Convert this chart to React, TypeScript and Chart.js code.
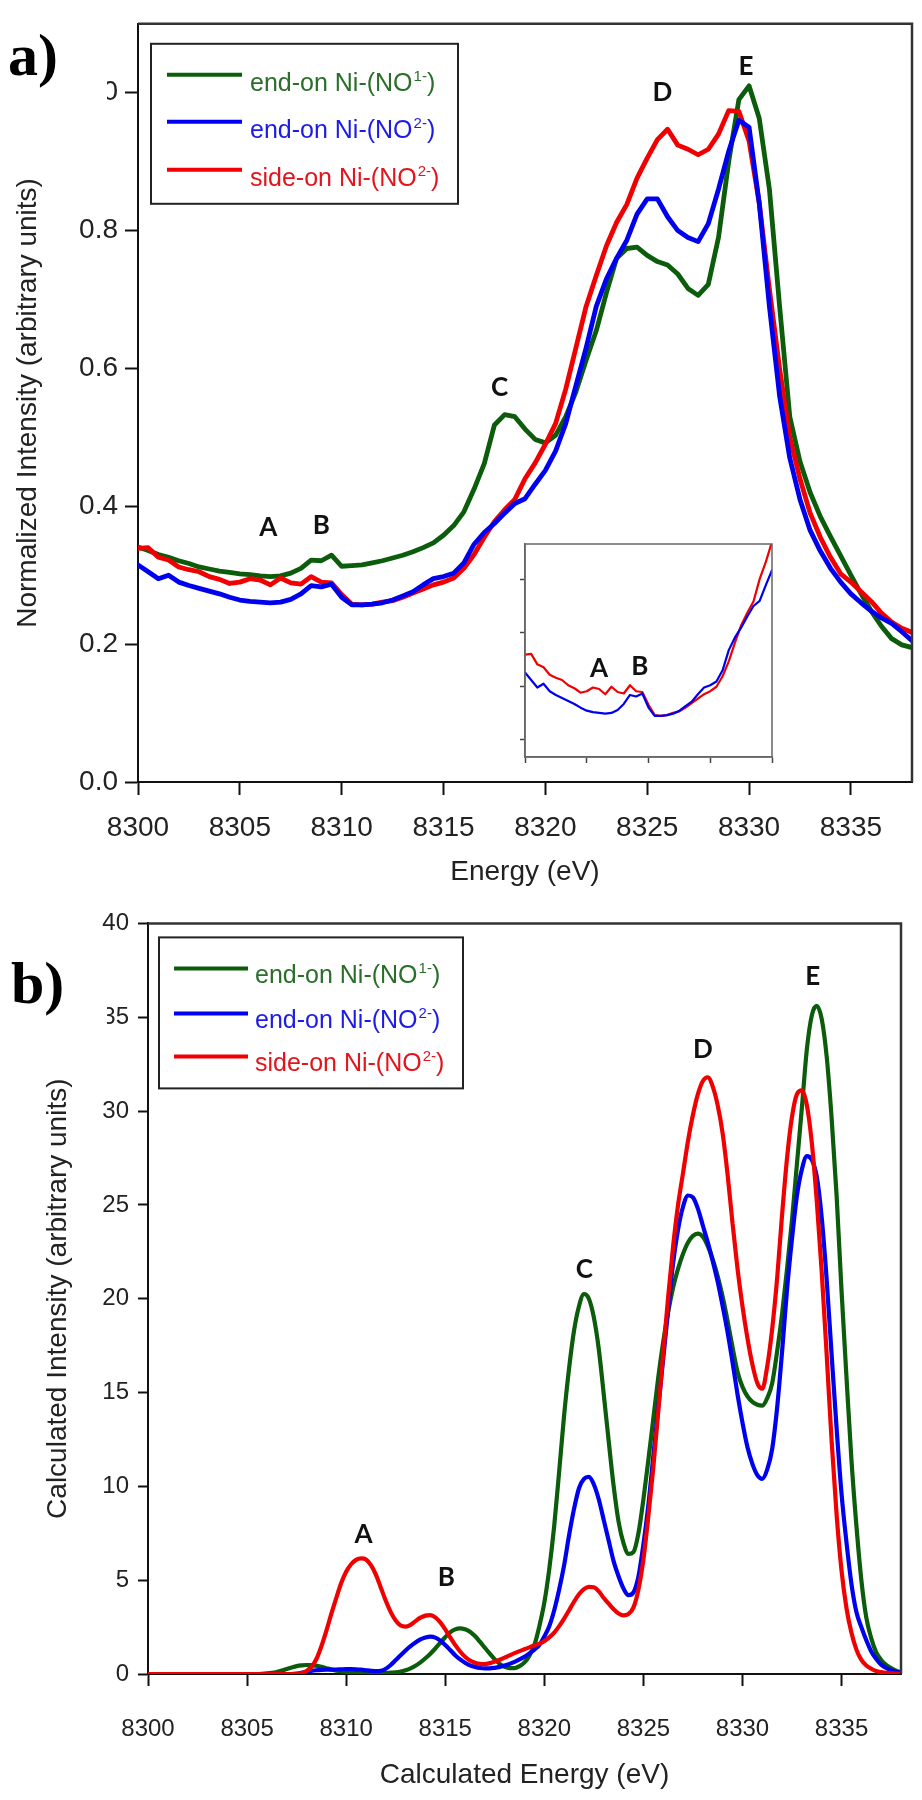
import React, { useEffect, useRef } from 'react';
import { Chart, registerables } from 'chart.js';

Chart.register(...registerables);

const SANS = '"Liberation Sans", Arial, Helvetica, sans-serif';
const LETTER = 'Lato, "Open Sans", "DejaVu Sans", sans-serif';
const SERIF = '"Liberation Serif", "Times New Roman", serif';

const GREEN = '#0b5c0b';
const BLUE = '#0000f0';
const RED = '#f00000';
const GREEN_TEXT = '#2a6e2a';
const BLUE_TEXT = '#1c1ce6';
const RED_TEXT = '#e4141c';

// ---------- legend ----------
const legendNames = ['end-on Ni-(NO', 'end-on Ni-(NO', 'side-on Ni-(NO'];
const legendSups = ['1-', '2-', '2-'];
const legendLineColors = [GREEN, BLUE, RED];
const legendTextColors = [GREEN_TEXT, BLUE_TEXT, RED_TEXT];

// ---------- panel a : experimental spectra (0.5 eV grid) ----------
const energyA = Array.from({ length: 77 }, (_, i) => 8300 + i * 0.5);
const yTicksA = [0, 0.2, 0.4, 0.6, 0.8, 1.0];
const greenA = [
  0.341, 0.336, 0.330, 0.326, 0.321, 0.317, 0.312, 0.309, 0.306, 0.304,
  0.302, 0.301, 0.299, 0.298, 0.299, 0.303, 0.310, 0.322, 0.321, 0.329,
  0.313, 0.314, 0.315, 0.318, 0.321, 0.325, 0.329, 0.334, 0.340, 0.347,
  0.358, 0.372, 0.392, 0.425, 0.462, 0.518, 0.533, 0.530, 0.512, 0.497,
  0.492, 0.503, 0.530, 0.566, 0.612, 0.655, 0.710, 0.760, 0.774, 0.776,
  0.764, 0.755, 0.750, 0.737, 0.716, 0.706, 0.722, 0.790, 0.900, 0.990,
  1.010, 0.963, 0.860, 0.690, 0.530, 0.465, 0.420, 0.385, 0.356, 0.328,
  0.300, 0.273, 0.248, 0.226, 0.208, 0.199, 0.195,
];
const blueA = [
  0.315, 0.305, 0.295, 0.300, 0.290, 0.285, 0.281, 0.277, 0.273, 0.268,
  0.264, 0.262, 0.261, 0.260, 0.261, 0.265, 0.273, 0.285, 0.283, 0.287,
  0.268, 0.257, 0.257, 0.258, 0.260, 0.264, 0.270, 0.276, 0.286, 0.295,
  0.298, 0.303, 0.318, 0.345, 0.362, 0.375, 0.390, 0.404, 0.411, 0.432,
  0.452, 0.480, 0.520, 0.575, 0.630, 0.690, 0.730, 0.760, 0.786, 0.824,
  0.846, 0.846, 0.820, 0.800, 0.790, 0.784, 0.810, 0.860, 0.915, 0.960,
  0.950, 0.840, 0.690, 0.560, 0.470, 0.410, 0.365, 0.335, 0.310, 0.290,
  0.273, 0.260, 0.248, 0.238, 0.230, 0.218, 0.205,
];
const redA = [
  0.339, 0.340, 0.326, 0.322, 0.312, 0.308, 0.305, 0.298, 0.294, 0.288,
  0.290, 0.295, 0.293, 0.286, 0.296, 0.289, 0.287, 0.298, 0.290, 0.289,
  0.272, 0.258, 0.257, 0.258, 0.261, 0.263, 0.268, 0.274, 0.280, 0.286,
  0.290, 0.296, 0.310, 0.330, 0.355, 0.378, 0.395, 0.410, 0.440, 0.463,
  0.490, 0.520, 0.570, 0.630, 0.690, 0.735, 0.778, 0.812, 0.838, 0.876,
  0.905, 0.932, 0.947, 0.924, 0.918, 0.910, 0.918, 0.940, 0.974, 0.973,
  0.930, 0.840, 0.715, 0.600, 0.500, 0.440, 0.390, 0.355, 0.326, 0.302,
  0.290, 0.276, 0.262, 0.245, 0.232, 0.223, 0.217,
];
const peakNamesA = ['A', 'B', 'C', 'D', 'E'];
const peakXA = [8306.4, 8309.0, 8317.75, 8325.75, 8329.85];
const peakYA = [0.370, 0.373, 0.573, 1.001, 1.040];

// inset (pre-edge zoom of panel a, 8300-8320 eV)
const insetYTicks = [0.226, 0.297, 0.368, 0.439];
const insetNames = ['A', 'B'];
const insetX = [8306.0, 8309.3];
const insetY = [0.321, 0.324];

// ---------- panel b : calculated spectra (0.25 eV grid) ----------
const energyB = Array.from({ length: 153 }, (_, i) => 8300 + i * 0.25);
const greenB = [
  0, 0, 0, 0, 0, 0, 0, 0, 0, 0, 0, 0, 0, 0, 0, 0, 0, 0, 0, 0, 0, 0, 0,
  0.01, 0.03, 0.06, 0.11, 0.18, 0.27, 0.35, 0.42, 0.46, 0.48,
  0.47, 0.43, 0.38, 0.31, 0.24, 0.18, 0.14, 0.11, 0.08, 0.06,
  0.04, 0.03, 0.03, 0.03, 0.04, 0.05, 0.07, 0.09, 0.13, 0.20,
  0.30, 0.44, 0.62, 0.84, 1.08, 1.36, 1.66, 1.96, 2.22, 2.38,
  2.43, 2.38, 2.25, 2.02, 1.72, 1.40, 1.08, 0.78, 0.54, 0.38,
  0.31, 0.31, 0.42, 0.62, 0.98, 1.55, 2.55, 3.80, 5.60, 7.90,
  10.80, 13.80, 16.30, 18.30, 19.60, 20.25, 20.00, 19.00, 17.30, 14.90,
  12.40, 10.00, 8.10, 6.96, 6.40, 6.50, 7.50, 9.30, 11.40, 13.60,
  15.80, 17.70, 19.30, 20.60, 21.60, 22.40, 23.00, 23.35, 23.47, 23.30,
  22.80, 22.10, 21.20, 20.10, 18.80, 17.40, 16.10, 15.30, 14.80, 14.50,
  14.35, 14.30, 14.70, 15.50, 17.20, 19.20, 21.60, 24.20, 27.20, 30.20,
  33.30, 35.10, 35.60, 34.90, 32.90, 29.60, 25.50, 20.40, 15.80, 11.40,
  7.90, 5.00, 3.00, 1.90, 1.15, 0.75, 0.48, 0.32, 0.18, 0.10,
];
const blueB = [
  0, 0, 0, 0, 0, 0, 0, 0, 0, 0, 0, 0, 0, 0, 0, 0, 0, 0, 0, 0, 0, 0, 0, 0, 0, 0, 0, 0, 0, 0,
  0.02, 0.06, 0.12, 0.17, 0.20, 0.22, 0.23, 0.23, 0.24, 0.25,
  0.26, 0.26, 0.25, 0.23, 0.20, 0.17, 0.15, 0.17, 0.28, 0.48,
  0.74, 1.00, 1.25, 1.48, 1.68, 1.84, 1.94, 1.99, 1.94, 1.78,
  1.55, 1.28, 1.00, 0.78, 0.60, 0.46, 0.38, 0.32, 0.30, 0.30,
  0.33, 0.38, 0.45, 0.54, 0.65, 0.78, 0.92, 1.10, 1.30, 1.55,
  2.00, 2.55, 3.40, 4.50, 5.80, 7.40, 8.80, 9.90, 10.40, 10.50,
  10.10, 9.30, 8.20, 7.10, 6.00, 5.20, 4.55, 4.20, 4.35, 5.20,
  6.90, 9.00, 11.60, 14.20, 16.80, 19.40, 21.90, 23.70, 24.90, 25.50,
  25.40, 24.80, 23.90, 23.00, 22.00, 20.90, 19.60, 18.20, 16.60, 14.90,
  13.40, 12.10, 11.20, 10.60, 10.40, 10.90, 12.00, 14.20, 17.20, 20.50,
  23.20, 25.50, 26.90, 27.60, 27.40, 26.50, 24.30, 21.00, 17.00, 13.10,
  9.60, 7.00, 4.80, 3.30, 2.50, 1.80, 1.20, 0.80, 0.50, 0.32,
  0.20, 0.12, 0.07,
];
const redB = [
  0, 0, 0, 0, 0, 0, 0, 0, 0, 0, 0, 0, 0, 0, 0, 0, 0, 0, 0, 0, 0, 0, 0, 0, 0, 0, 0, 0, 0, 0, 0,
  0.05, 0.16, 0.38, 0.80, 1.48, 2.30, 3.20, 4.05, 4.85,
  5.45, 5.85, 6.08, 6.16, 6.10, 5.80, 5.30, 4.60, 3.90, 3.30,
  2.85, 2.58, 2.52, 2.62, 2.82, 3.00, 3.11, 3.14, 3.02, 2.75,
  2.38, 1.95, 1.55, 1.20, 0.92, 0.72, 0.60, 0.54, 0.53, 0.58,
  0.66, 0.76, 0.87, 0.99, 1.11, 1.22, 1.32, 1.42, 1.53, 1.62,
  1.75, 1.95, 2.20, 2.55, 2.95, 3.40, 3.85, 4.25, 4.52, 4.64,
  4.62, 4.40, 4.05, 3.75, 3.45, 3.22, 3.12, 3.20, 3.55, 4.50,
  6.10, 8.40, 11.00, 14.00, 17.10, 20.10, 22.80, 25.00, 26.70, 28.40,
  29.80, 30.90, 31.60, 31.80, 31.30, 30.30, 28.80, 26.60, 24.00, 21.60,
  19.60, 17.90, 16.50, 15.50, 15.20, 16.40, 18.40, 21.10, 24.50, 27.50,
  29.70, 30.90, 31.10, 30.30, 28.30, 25.20, 21.40, 17.00, 12.40, 8.50,
  5.50, 3.50, 2.20, 1.30, 0.75, 0.45, 0.28, 0.16, 0.10, 0.06,
  0.04, 0.02, 0.01,
];
const peakNamesB = ['A', 'B', 'C', 'D', 'E'];
const peakXB = [8310.88, 8315.06, 8322.02, 8328.0, 8333.55];
const peakYB = [7.5, 5.17, 21.6, 33.3, 37.2];

// ---------- helpers ----------
const pts = (xs: number[], ys: number[]) => ys.map((y, i) => ({ x: xs[i], y }));

function legendPlugin(o: any) {
  return {
    id: 'customLegend',
    afterDatasetsDraw(chart: any) {
      const { ctx, chartArea } = chart;
      const x0 = chartArea.left + o.dx;
      const y0 = chartArea.top + o.dy;
      ctx.save();
      ctx.fillStyle = '#ffffff';
      ctx.fillRect(x0, y0, o.w, o.h);
      ctx.strokeStyle = '#222';
      ctx.lineWidth = 2;
      ctx.strokeRect(x0, y0, o.w, o.h);
      legendNames.forEach((name, i) => {
        const y = y0 + o.rowY[i];
        ctx.strokeStyle = legendLineColors[i];
        ctx.lineWidth = 4;
        ctx.beginPath();
        ctx.moveTo(x0 + o.lineX0, y);
        ctx.lineTo(x0 + o.lineX1, y);
        ctx.stroke();
        ctx.fillStyle = legendTextColors[i];
        ctx.textAlign = 'left';
        ctx.textBaseline = 'alphabetic';
        const by = y + o.baseOff;
        let tx = x0 + o.textX;
        ctx.font = `${o.font}px ${SANS}`;
        ctx.fillText(name, tx, by);
        tx += ctx.measureText(name).width + 1;
        ctx.font = `${Math.round(o.font * 0.6)}px ${SANS}`;
        ctx.fillText(legendSups[i], tx, by - o.font * 0.4);
        tx += ctx.measureText(legendSups[i]).width;
        ctx.font = `${o.font}px ${SANS}`;
        ctx.fillText(')', tx, by);
      });
      ctx.restore();
    },
  };
}

function lettersPlugin(names: string[], xs: number[], ys: number[], size: number) {
  return {
    id: 'peakLetters',
    afterDatasetsDraw(chart: any) {
      const { ctx, scales } = chart;
      ctx.save();
      ctx.font = `bold ${size}px ${LETTER}`;
      ctx.fillStyle = '#111';
      ctx.textAlign = 'center';
      ctx.textBaseline = 'alphabetic';
      names.forEach((n, i) => {
        const px = scales.x.getPixelForValue(xs[i]);
        const py = scales.y.getPixelForValue(ys[i]);
        ctx.fillText(n, px, py + size * 0.36);
      });
      ctx.restore();
    },
  };
}

function framePlugin(color: string, width: number, full: boolean, fill: boolean) {
  return {
    id: 'frame',
    beforeDraw(chart: any) {
      if (!fill) return;
      const { ctx, chartArea: a } = chart;
      ctx.save();
      ctx.fillStyle = '#fff';
      ctx.fillRect(a.left, a.top, a.right - a.left, a.bottom - a.top);
      ctx.restore();
    },
    afterDraw(chart: any) {
      const { ctx, chartArea: a } = chart;
      ctx.save();
      ctx.strokeStyle = color;
      ctx.lineWidth = width;
      ctx.beginPath();
      if (full) {
        ctx.rect(a.left, a.top, a.right - a.left, a.bottom - a.top);
      } else {
        ctx.moveTo(a.left, a.top);
        ctx.lineTo(a.right, a.top);
        ctx.lineTo(a.right, a.bottom);
      }
      ctx.stroke();
      ctx.restore();
    },
  };
}

const lineDs = (label: string, data: any[], color: string, width: number, smooth: boolean) => ({
  label,
  data,
  borderColor: color,
  backgroundColor: color,
  borderWidth: width,
  pointRadius: 0,
  fill: false,
  tension: 0,
  cubicInterpolationMode: smooth ? 'monotone' : 'default',
  borderJoinStyle: 'round',
  borderCapStyle: 'round',
});

const fmtInt = (v: any) => String(v);

function configA() {
  return {
    type: 'line',
    data: {
      datasets: [
        lineDs('end-on Ni-(NO2-)', pts(energyA, blueA), BLUE, 4.8, false),
        lineDs('side-on Ni-(NO2-)', pts(energyA, redA), RED, 4.8, false),
        lineDs('end-on Ni-(NO1-)', pts(energyA, greenA), GREEN, 4.8, false),
      ],
    },
    options: {
      animation: false,
      responsive: false,
      devicePixelRatio: 1,
      parsing: false,
      layout: { padding: { left: 0, top: 11, right: 10, bottom: 0 } },
      plugins: { legend: { display: false }, tooltip: { enabled: false } },
      scales: {
        x: {
          type: 'linear',
          min: 8300,
          max: 8338,
          ticks: { stepSize: 5, includeBounds: false, callback: fmtInt, font: { family: SANS, size: 28 }, color: '#222', padding: 16, maxRotation: 0, autoSkip: false },
          grid: { drawOnChartArea: false, drawTicks: true, tickLength: 13, tickWidth: 2, tickColor: '#111' },
          border: { display: true, color: '#111', width: 2 },
          title: { display: true, text: 'Energy (eV)', font: { family: SANS, size: 28 }, color: '#222', padding: { top: 0, bottom: 11 } },
          afterFit: (s: any) => { s.height = 118; },
        },
        y: {
          type: 'linear',
          min: 0,
          max: 1.1,
          afterBuildTicks: (s: any) => { s.ticks = yTicksA.map((v) => ({ value: v })); },
          ticks: { callback: (v: any) => Number(v).toFixed(1), font: { family: SANS, size: 28 }, color: '#222', padding: 7 },
          grid: { drawOnChartArea: false, drawTicks: true, tickLength: 13, tickWidth: 2, tickColor: '#111' },
          border: { display: true, color: '#111', width: 2 },
          title: { display: true, text: 'Normalized Intensity (arbitrary units)', font: { family: SANS, size: 28 }, color: '#222', padding: { top: 11, bottom: 0 } },
          afterFit: (s: any) => { s.width = 138; },
        },
      },
    },
    plugins: [
      lettersPlugin(peakNamesA, peakXA, peakYA, 26),
      legendPlugin({ dx: 13, dy: 20, w: 307, h: 160, rowY: [31, 78, 126], lineX0: 16, lineX1: 91, textX: 99, baseOff: 16, font: 25 }),
      framePlugin('#333', 2.5, false, false),
    ],
  };
}

function configInset() {
  return {
    type: 'line',
    data: {
      datasets: [
        lineDs('end-on Ni-(NO2-)', pts(energyA.slice(0, 41), blueA.slice(0, 41)), BLUE, 2.2, false),
        lineDs('side-on Ni-(NO2-)', pts(energyA.slice(0, 41), redA.slice(0, 41)), RED, 2.2, false),
      ],
    },
    options: {
      animation: false,
      responsive: false,
      devicePixelRatio: 1,
      parsing: false,
      layout: { padding: { left: 0, top: 10, right: 8, bottom: 0 } },
      plugins: { legend: { display: false }, tooltip: { enabled: false } },
      scales: {
        x: {
          type: 'linear',
          min: 8300,
          max: 8320,
          ticks: { stepSize: 5, callback: () => '', padding: 0, font: { size: 4 } },
          grid: { drawOnChartArea: false, drawTicks: true, tickLength: 6, tickWidth: 1.5, tickColor: '#444' },
          border: { display: true, color: '#666', width: 1.5 },
          afterFit: (s: any) => { s.height = 17; },
        },
        y: {
          type: 'linear',
          min: 0.202,
          max: 0.487,
          afterBuildTicks: (s: any) => { s.ticks = insetYTicks.map((v) => ({ value: v })); },
          ticks: { callback: () => '', padding: 0, font: { size: 4 } },
          grid: { drawOnChartArea: false, drawTicks: true, tickLength: 5, tickWidth: 1.5, tickColor: '#444' },
          border: { display: true, color: '#666', width: 1.5 },
          afterFit: (s: any) => { s.width = 25; },
        },
      },
    },
    plugins: [
      framePlugin('#666', 1.5, true, true),
      lettersPlugin(insetNames, insetX, insetY, 26),
    ],
  };
}

function configB() {
  return {
    type: 'line',
    data: {
      datasets: [
        lineDs('side-on Ni-(NO2-)', pts(energyB, redB), RED, 4.2, true),
        lineDs('end-on Ni-(NO2-)', pts(energyB, blueB), BLUE, 4.2, true),
        lineDs('end-on Ni-(NO1-)', pts(energyB, greenB), GREEN, 4.2, true),
      ],
    },
    options: {
      animation: false,
      responsive: false,
      devicePixelRatio: 1,
      parsing: false,
      layout: { padding: { left: 0, top: 23, right: 21, bottom: 0 } },
      plugins: { legend: { display: false }, tooltip: { enabled: false } },
      scales: {
        x: {
          type: 'linear',
          min: 8300,
          max: 8338,
          ticks: { stepSize: 5, includeBounds: false, callback: fmtInt, font: { family: SANS, size: 24 }, color: '#222', padding: 29, maxRotation: 0, autoSkip: false },
          grid: { drawOnChartArea: false, drawTicks: true, tickLength: 12, tickWidth: 2, tickColor: '#111' },
          border: { display: true, color: '#111', width: 2 },
          title: { display: true, text: 'Calculated Energy (eV)', font: { family: SANS, size: 28 }, color: '#222', padding: { top: 0, bottom: 8 } },
          afterFit: (s: any) => { s.height = 126; },
        },
        y: {
          type: 'linear',
          min: 0,
          max: 40,
          ticks: { stepSize: 5, callback: fmtInt, font: { family: SANS, size: 24 }, color: '#222', padding: 9 },
          grid: { drawOnChartArea: false, drawTicks: true, tickLength: 10, tickWidth: 2, tickColor: '#111' },
          border: { display: true, color: '#111', width: 2 },
          title: { display: true, text: 'Calculated Intensity (arbitrary units)', font: { family: SANS, size: 28 }, color: '#222', padding: { top: 41, bottom: 0 } },
          afterFit: (s: any) => { s.width = 148; },
        },
      },
    },
    plugins: [
      lettersPlugin(peakNamesB, peakXB, peakYB, 26),
      legendPlugin({ dx: 11, dy: 14, w: 304, h: 151, rowY: [31, 76, 119], lineX0: 15, lineX1: 89, textX: 96, baseOff: 15, font: 25 }),
      framePlugin('#333', 2.5, false, false),
    ],
  };
}

function ChartCanvas({ make, left, top, width, height }: any) {
  const ref = useRef<HTMLCanvasElement>(null);
  useEffect(() => {
    const chart = new Chart(ref.current as HTMLCanvasElement, make() as any);
    return () => chart.destroy();
  }, []);
  return (
    <canvas
      ref={ref}
      width={width}
      height={height}
      style={{ position: 'absolute', left, top, width, height, display: 'block' }}
    />
  );
}

const panelLabel = (top: number, padLeft: number): React.CSSProperties => ({
  position: 'absolute',
  left: 0,
  top,
  width: 107,
  height: 80,
  background: '#fff',
  fontFamily: SERIF,
  fontWeight: 'bold',
  fontSize: 60,
  lineHeight: '60px',
  paddingLeft: padLeft,
  boxSizing: 'border-box',
  color: '#000',
  whiteSpace: 'nowrap',
});

export default function App() {
  return (
    <div style={{ position: 'absolute', left: 0, top: 0, width: 922, height: 1800, background: '#fff', overflow: 'hidden' }}>
      <ChartCanvas make={configA} left={0} top={0} width={922} height={900} />
      <ChartCanvas make={configInset} left={500} top={534} width={280} height={240} />
      <ChartCanvas make={configB} left={0} top={900} width={922} height={900} />
      <div style={panelLabel(25, 8)}>a)</div>
      <div style={panelLabel(953, 11)}>b)</div>
    </div>
  );
}
